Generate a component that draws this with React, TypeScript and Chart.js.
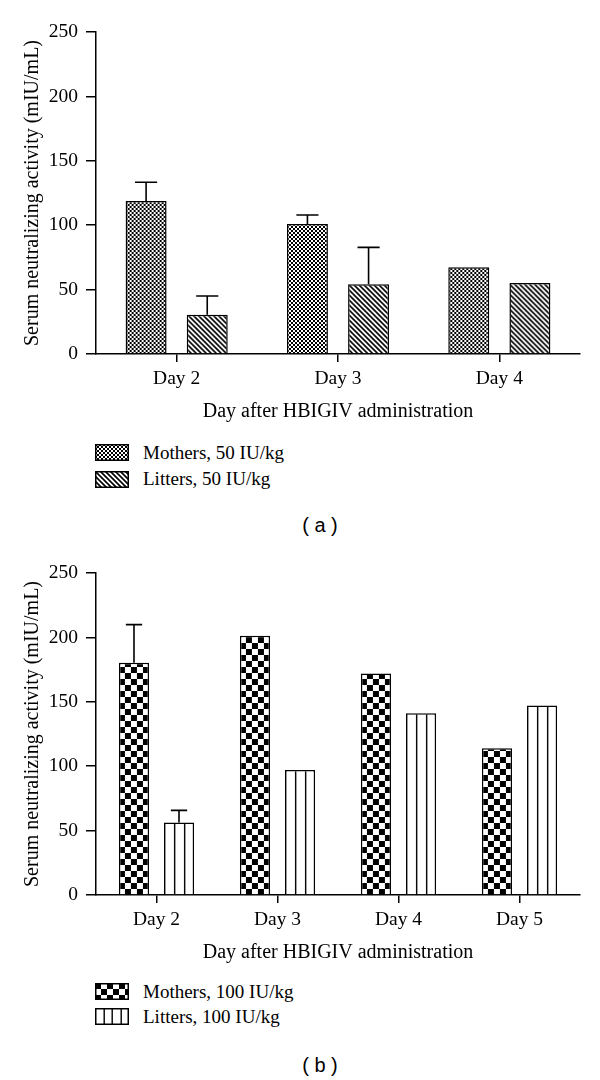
import React, { useEffect, useRef } from "react";
import { Chart, registerables } from "chart.js";

Chart.register(...registerables);

const SERIF = "'Liberation Serif', 'Times New Roman', serif";
const SANS = "'Liberation Sans', Arial, sans-serif";

// Panel (a): 50 IU/kg
const categoriesA = ["Day 2", "Day 3", "Day 4"];
const mothersA = [118.8, 100.9, 67.3];
const littersA = [30.5, 54.1, 55.1];
const mothersSdA = [14.5, 7.0, 0];
const littersSdA = [14.5, 28.7, 0];
const legendA = ["Mothers, 50 IU/kg", "Litters, 50 IU/kg"];

// Panel (b): 100 IU/kg
const categoriesB = ["Day 2", "Day 3", "Day 4", "Day 5"];
const mothersB = [180.3, 201.3, 172.0, 113.9];
const littersB = [56.3, 97.0, 141.2, 147.1];
const mothersSdB = [29.6, 0, 0, 0];
const littersSdB = [9.4, 0, 0, 0];
const legendB = ["Mothers, 100 IU/kg", "Litters, 100 IU/kg"];

const yTickValues = [0, 50, 100, 150, 200, 250];
const xTitle = "Day after HBIGIV administration";
const yTitle = "Serum neutralizing activity (mIU/mL)";

type Kind = "fineChecker" | "diagonal" | "coarseChecker" | "vertical";

function makeTile(kind: Kind): HTMLCanvasElement {
  const c = document.createElement("canvas");
  if (kind === "fineChecker" || kind === "coarseChecker") {
    const s = kind === "fineChecker" ? 2 : 6;
    c.width = c.height = s * 2;
    const g = c.getContext("2d")!;
    g.fillStyle = "#fff";
    g.fillRect(0, 0, 2 * s, 2 * s);
    g.fillStyle = "#000";
    g.fillRect(0, 0, s, s);
    g.fillRect(s, s, s, s);
  } else if (kind === "diagonal") {
    const p = 5;
    c.width = c.height = 2 * p;
    const g = c.getContext("2d")!;
    g.fillStyle = "#fff";
    g.fillRect(0, 0, 2 * p, 2 * p);
    g.strokeStyle = "#000";
    g.lineWidth = 1.6;
    g.beginPath();
    for (let k = -3; k <= 3; k++) {
      g.moveTo(k * p - 2, -2);
      g.lineTo(k * p + 2 * p + 2, 2 * p + 2);
    }
    g.stroke();
  } else {
    const p = 10;
    c.width = p;
    c.height = 2;
    const g = c.getContext("2d")!;
    g.fillStyle = "#fff";
    g.fillRect(0, 0, p, 2);
    g.fillStyle = "#000";
    g.fillRect(0, 0, 1.4, 2);
  }
  return c;
}

function barFill(kind: Kind, cp: number, bp: number) {
  const tile = makeTile(kind);
  return (ctx: any) => {
    const chart = ctx.chart;
    const pat = chart.ctx.createPattern(tile, "repeat");
    if (ctx.type !== "data") return pat;
    const xs = chart.scales.x;
    const ys = chart.scales.y;
    if (!xs || !ys) return pat;
    const catW = xs.getPixelForValue(1) - xs.getPixelForValue(0);
    const chunk = (catW * cp) / 2;
    const left =
      xs.getPixelForValue(ctx.dataIndex) -
      (catW * cp) / 2 +
      chunk * ctx.datasetIndex +
      chunk / 2 -
      (chunk * bp) / 2;
    try {
      pat.setTransform(new DOMMatrix([1, 0, 0, 1, left, ys.getPixelForValue(0)]));
    } catch (e) {}
    return pat;
  };
}

const errorBarPlugin = {
  id: "errorBars",
  afterDatasetsDraw(chart: any) {
    const g = chart.ctx;
    const ys = chart.scales.y;
    chart.data.datasets.forEach((ds: any, di: number) => {
      const sd = ds.sd as number[];
      if (!sd) return;
      const meta = chart.getDatasetMeta(di);
      meta.data.forEach((bar: any, i: number) => {
        const e = sd[i];
        if (!e) return;
        const v = ds.data[i];
        const yBase = ys.getPixelForValue(v);
        const yTop = ys.getPixelForValue(v + e);
        const half = bar.width * 0.27;
        g.save();
        g.strokeStyle = "#000";
        g.lineWidth = 1.6;
        g.beginPath();
        g.moveTo(bar.x, yBase);
        g.lineTo(bar.x, yTop);
        g.moveTo(bar.x - half, yTop);
        g.lineTo(bar.x + half, yTop);
        g.stroke();
        g.restore();
      });
    });
  },
};

const tickFont = { family: SERIF, size: 19.5 };
const titleFont = { family: SERIF, size: 20 };

function BarPanel(props: {
  top: number;
  labels: string[];
  mothers: number[];
  litters: number[];
  mothersSd: number[];
  littersSd: number[];
  names: string[];
  motherKind: Kind;
  litterKind: Kind;
  cp: number;
}) {
  const ref = useRef<HTMLCanvasElement>(null);
  useEffect(() => {
    const bp = 0.67;
    const chart = new Chart(ref.current!, {
      type: "bar",
      data: {
        labels: props.labels,
        datasets: [
          {
            label: props.names[0],
            data: props.mothers,
            sd: props.mothersSd,
            backgroundColor: barFill(props.motherKind, props.cp, bp),
            borderColor: "#000",
            borderWidth: 1.5,
            categoryPercentage: props.cp,
            barPercentage: bp,
          } as any,
          {
            label: props.names[1],
            data: props.litters,
            sd: props.littersSd,
            backgroundColor: barFill(props.litterKind, props.cp, bp),
            borderColor: "#000",
            borderWidth: 1.5,
            categoryPercentage: props.cp,
            barPercentage: bp,
          } as any,
        ],
      },
      options: {
        responsive: false,
        animation: false,
        devicePixelRatio: 1,
        events: [],
        layout: { padding: { top: 32, right: 20, left: 0, bottom: 0 } },
        plugins: {
          legend: { display: false },
          tooltip: { enabled: false },
        },
        scales: {
          x: {
            grid: {
              offset: false,
              drawOnChartArea: false,
              drawTicks: true,
              tickLength: 8,
              color: "#000",
              lineWidth: 1.5,
            },
            border: { color: "#000", width: 1.5 },
            ticks: { color: "#000", font: tickFont, padding: 5, maxRotation: 0 },
            title: {
              display: true,
              text: xTitle,
              color: "#000",
              font: titleFont,
              padding: { top: 0, bottom: 1 },
            },
            afterFit: (s: any) => {
              s.height = 71;
            },
          },
          y: {
            min: 0,
            max: 250,
            afterBuildTicks: (s: any) => {
              s.ticks = yTickValues.map((v) => ({ value: v }));
            },
            ticks: { color: "#000", font: tickFont, padding: 8 },
            grid: {
              drawOnChartArea: false,
              tickLength: 10,
              color: "#000",
              lineWidth: 1.5,
            },
            border: { color: "#000", width: 1.5 },
            title: {
              display: true,
              text: yTitle,
              color: "#000",
              font: titleFont,
              padding: { top: 21, bottom: 0 },
            },
            afterFit: (s: any) => {
              s.width = 96;
            },
          },
        },
      } as any,
      plugins: [errorBarPlugin],
    });
    return () => chart.destroy();
  }, []);
  return (
    <canvas
      ref={ref}
      width={600}
      height={425}
      style={{ position: "absolute", left: 0, top: props.top, width: 600, height: 425 }}
    />
  );
}

function Swatch({ kind, left, top }: { kind: Kind; left: number; top: number }) {
  const ref = useRef<HTMLCanvasElement>(null);
  useEffect(() => {
    const c = ref.current!;
    const g = c.getContext("2d")!;
    const w = 34;
    const h = 17;
    g.fillStyle = "#fff";
    g.fillRect(0, 0, w, h);
    if (kind === "vertical") {
      g.fillStyle = "#000";
      for (let i = 1; i <= 3; i++) g.fillRect(Math.round((i * w) / 4) - 0.5, 0, 1.4, h);
    } else {
      const pat = g.createPattern(makeTile(kind), "repeat")!;
      g.fillStyle = pat;
      g.fillRect(0, 0, w, h);
    }
    g.strokeStyle = "#000";
    g.lineWidth = 1.5;
    g.strokeRect(0.75, 0.75, w - 1.5, h - 1.5);
  }, [kind]);
  return (
    <canvas
      ref={ref}
      width={34}
      height={17}
      style={{ position: "absolute", left, top, width: 34, height: 17 }}
    />
  );
}

function LegendRow({ kind, text, cy }: { kind: Kind; text: string; cy: number }) {
  return (
    <>
      <Swatch kind={kind} left={95} top={cy - 8.5} />
      <div
        style={{
          position: "absolute",
          left: 143,
          top: cy - 11,
          height: 22,
          lineHeight: "22px",
          fontFamily: SERIF,
          fontSize: 19,
          color: "#000",
          whiteSpace: "nowrap",
        }}
      >
        {text}
      </div>
    </>
  );
}

function Caption({ text, cy }: { text: string; cy: number }) {
  return (
    <div
      style={{
        position: "absolute",
        left: 220,
        width: 200,
        top: cy - 12,
        height: 24,
        lineHeight: "24px",
        textAlign: "center",
        fontFamily: SANS,
        fontSize: 20,
        color: "#000",
        whiteSpace: "pre",
      }}
    >
      {text}
    </div>
  );
}

export default function App() {
  return (
    <div
      style={{
        position: "absolute",
        left: 0,
        top: 0,
        width: 600,
        height: 1080,
        background: "#fff",
        overflow: "hidden",
      }}
    >
      <BarPanel
        top={0}
        labels={categoriesA}
        mothers={mothersA}
        litters={littersA}
        mothersSd={mothersSdA}
        littersSd={littersSdA}
        names={legendA}
        motherKind="fineChecker"
        litterKind="diagonal"
        cp={0.758}
      />
      <LegendRow kind="fineChecker" text={legendA[0]} cy={452.5} />
      <LegendRow kind="diagonal" text={legendA[1]} cy={479} />
      <Caption text="( a )" cy={525} />

      <BarPanel
        top={541}
        labels={categoriesB}
        mothers={mothersB}
        litters={littersB}
        mothersSd={mothersSdB}
        littersSd={littersSdB}
        names={legendB}
        motherKind="coarseChecker"
        litterKind="vertical"
        cp={0.744}
      />
      <LegendRow kind="coarseChecker" text={legendB[0]} cy={991.5} />
      <LegendRow kind="vertical" text={legendB[1]} cy={1016.5} />
      <Caption text="( b )" cy={1065} />
    </div>
  );
}
